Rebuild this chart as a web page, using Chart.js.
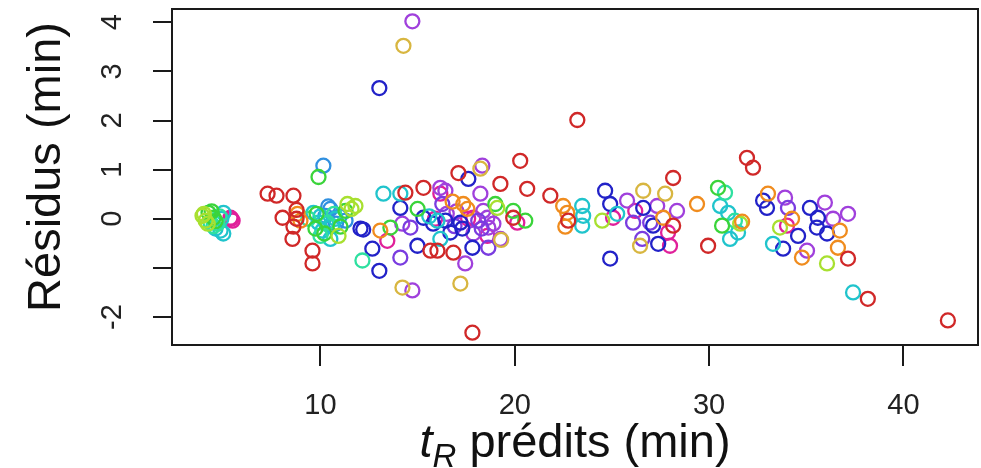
<!DOCTYPE html>
<html>
<head>
<meta charset="utf-8">
<script src="https://cdn.jsdelivr.net/npm/chart.js@4.4.1/dist/chart.umd.min.js"></script>
<style>
html, body { margin: 0; padding: 0; background: #fff; }
#wrap { width: 981px; height: 468px; position: relative; }
</style>
</head>
<body>
<div id="wrap"><canvas id="residus"></canvas></div>
<script>
// Axes
const X_MIN = 2.36, X_MAX = 43.84;
const Y_MIN = -2.57, Y_MAX = 4.27;
const xTicks = [10, 20, 30, 40];
const xTickLabels = ['10', '20', '30', '40'];
const yTicks = [-2, -1, 0, 1, 2, 3, 4];
const yTickLabels = ['-2', '', '0', '1', '2', '3', '4']; // -1 masqué comme dans R

// Résidus par composé : [tR prédit, résidu]
const rouge = [[7.28,0.51],[7.74,0.47],[8.61,0.47],[8.05,0.02],[8.77,0.18],[8.77,0.0],[8.61,-0.16],[8.56,-0.41],[9.59,-0.65],[9.59,-0.91],
  [14.37,0.53],[15.30,0.63],[15.66,-0.65],[16.02,-0.65],[16.84,-0.69],[17.10,0.93],[19.26,0.71],[20.28,1.18],[20.64,0.61],[17.82,-2.32],[19.92,0.02],
  [21.83,0.47],[22.75,-0.04],[23.22,2.01],[28.15,0.83],[28.15,-0.14],[29.95,-0.55],[31.95,1.24],[32.26,1.04],[37.15,-0.81],[38.17,-1.63],[42.29,-2.07]];
const orange = [[8.97,-0.04],[8.82,0.10],[13.08,-0.24],[17.35,0.30],[17.56,0.20],[16.80,0.35],[22.49,0.26],[22.70,0.12],[22.60,-0.16],[27.64,0.02],[29.38,0.30],
  [31.70,-0.06],[33.03,0.51],[34.27,0.0],[34.78,-0.79],[36.73,-0.24],[36.63,-0.59]];
const jaune = [[14.27,3.52],[14.22,-1.40],[17.20,-1.32],[18.23,1.02],[19.30,-0.43],[26.61,0.57],[27.74,0.51],[26.45,-0.55]];
const chartreuse = [[3.93,0.06],[4.09,-0.04],[4.00,0.10],[4.20,-0.10],[10.93,-0.35],[11.39,0.30],[11.80,0.26],[11.60,0.20],[19.10,0.22],[24.50,-0.04],
  [31.60,-0.10],[33.65,-0.18],[36.07,-0.91]];
const vert = [[4.24,0.12],[4.50,0.02],[4.40,0.15],[4.60,-0.05],[9.90,0.85],[9.74,-0.20],[9.80,0.10],[10.20,-0.30],[11.03,-0.16],[11.29,0.16],[13.60,-0.18],
  [15.00,0.20],[19.00,0.30],[19.92,0.16],[20.54,-0.04],[30.46,0.63],[30.67,-0.14]];
const printemps = [[4.34,-0.08],[4.70,-0.10],[4.50,-0.15],[4.80,0.05],[9.38,0.0],[10.36,-0.08],[10.70,0.10],[10.00,-0.35],[12.16,-0.85],[30.82,0.53],[31.33,-0.04]];
const cyan = [[4.86,-0.24],[5.01,0.12],[4.60,-0.20],[5.00,-0.30],[4.90,0.0],[9.64,0.12],[9.90,-0.08],[10.10,-0.24],[10.30,-0.10],[10.60,-0.15],[10.00,0.05],
  [10.77,0.0],[10.51,-0.41],[13.24,0.51],[14.11,0.51],[15.60,0.05],[16.02,-0.04],[16.17,-0.41],[23.47,0.26],[23.52,0.06],[23.47,-0.14],[25.27,0.10],
  [30.57,0.26],[30.98,0.12],[31.08,-0.41],[31.49,-0.28],[33.29,-0.51],[37.41,-1.50]];
const azur = [[10.15,1.08],[10.26,0.06],[10.51,0.20],[11.29,-0.04],[10.80,-0.10],[10.40,0.25],[11.00,0.05]];
const bleu = [[12.06,-0.20],[12.20,-0.22],[12.67,-0.61],[13.03,-1.06],[13.03,2.66],[14.11,0.22],[14.99,-0.55],[15.30,0.02],[15.80,-0.10],[16.43,-0.04],
  [16.68,-0.28],[17.20,-0.08],[17.30,-0.20],[17.61,0.81],[17.82,-0.59],[24.65,0.57],[24.91,0.30],[24.91,-0.81],[26.61,0.22],[27.12,-0.14],[27.38,-0.51],
  [32.78,0.37],[32.98,0.22],[34.58,-0.35],[33.81,-0.61],[35.19,0.22],[35.60,0.02],[35.55,-0.18],[36.07,-0.30]];
const violet = [[14.63,-0.18],[14.11,-0.79],[16.27,0.30],[16.90,-0.15],[18.12,-0.04],[18.30,-0.20],[18.64,-0.59],[26.09,-0.08],[26.97,-0.08],[26.56,-0.41],[34.06,0.22]];
const pourpre = [[14.21,-0.10],[14.73,-1.46],[14.73,4.02],[16.17,0.63],[16.43,0.57],[16.50,0.10],[17.00,0.15],[18.33,1.08],[18.38,0.16],[18.59,0.02],
  [18.90,-0.10],[18.23,0.51],[17.87,-0.30],[18.64,-0.18],[19.26,-0.41],[17.45,-0.91],[25.78,0.37],[27.33,0.26],[28.35,0.16],[33.91,0.43],[35.04,-0.65],
  [35.96,0.33],[36.38,0.0],[37.15,0.10]];
const magenta = [[5.37,0.02],[5.48,-0.04],[5.42,0.0],[13.44,-0.45],[15.90,0.0],[16.17,0.51],[17.60,0.0],[17.87,0.02],[18.59,-0.35],[20.13,-0.08],
  [25.06,0.02],[26.20,0.16],[27.89,-0.28],[27.99,-0.55],[34.01,-0.14]];

const groupes = [
  { pts: rouge, col: '#d02828' },
  { pts: orange, col: '#f08c1e' },
  { pts: jaune, col: '#d8b640' },
  { pts: chartreuse, col: '#a8e030' },
  { pts: vert, col: '#3ad43a' },
  { pts: printemps, col: '#2ee0a0' },
  { pts: cyan, col: '#20c4cc' },
  { pts: azur, col: '#3090e0' },
  { pts: bleu, col: '#2222c8' },
  { pts: violet, col: '#7a3ce0' },
  { pts: pourpre, col: '#a040dc' },
  { pts: magenta, col: '#e0209a' }
];

const FONT = 'Liberation Sans, Arial, sans-serif';
const INK = '#1a1a1a';

// Cadre complet + titres des axes (t_R en italique avec indice)
const cadre = {
  id: 'cadre',
  afterDraw(chart) {
    const { ctx, chartArea: a } = chart;
    ctx.save();
    ctx.strokeStyle = INK;
    ctx.lineWidth = 2;
    ctx.strokeRect(a.left, a.top, a.right - a.left, a.bottom - a.top);

    ctx.fillStyle = '#111';
    // titre y
    ctx.save();
    ctx.translate(60, 167);
    ctx.rotate(-Math.PI / 2);
    ctx.font = '47px ' + FONT;
    ctx.textAlign = 'center';
    ctx.textBaseline = 'alphabetic';
    ctx.fillText('Résidus (min)', 0, 0);
    ctx.restore();

    // titre x
    const big = '47px ' + FONT, itBig = 'italic 47px ' + FONT, itSub = 'italic 33px ' + FONT;
    const rest = ' prédits (min)';
    ctx.textAlign = 'left';
    ctx.textBaseline = 'alphabetic';
    ctx.font = itBig; const wt = ctx.measureText('t').width;
    ctx.font = itSub; const wr = ctx.measureText('R').width;
    ctx.font = big; const wp = ctx.measureText(rest).width;
    let x = (a.left + a.right) / 2 - (wt + wr + wp) / 2;
    const base = 457;
    ctx.font = itBig; ctx.fillText('t', x, base); x += wt;
    ctx.font = itSub; ctx.fillText('R', x, base + 10); x += wr;
    ctx.font = big; ctx.fillText(rest, x, base);
    ctx.restore();
  }
};

new Chart(document.getElementById('residus'), {
  type: 'scatter',
  data: {
    datasets: groupes.map(g => ({
      data: g.pts.map(p => ({ x: p[0], y: p[1] })),
      borderColor: g.col,
      backgroundColor: 'rgba(0,0,0,0)',
      pointRadius: 7,
      pointHoverRadius: 7,
      pointBorderWidth: 2.3
    }))
  },
  options: {
    responsive: true,
    maintainAspectRatio: false,
    animation: false,
    devicePixelRatio: 1,
    layout: { autoPadding: false, padding: { top: 9, right: 3, left: 0, bottom: 0 } },
    plugins: { legend: { display: false }, tooltip: { enabled: false } },
    scales: {
      x: {
        type: 'linear',
        min: X_MIN,
        max: X_MAX,
        afterBuildTicks: s => { s.ticks = xTicks.map(v => ({ value: v })); },
        afterFit: s => { s.height = 123; s.paddingLeft = 0; s.paddingRight = 0; },
        ticks: {
          callback: (v, i) => xTickLabels[i],
          font: { family: FONT, size: 29 },
          color: '#222',
          padding: 23,
          maxRotation: 0,
          autoSkip: false
        },
        grid: { drawOnChartArea: false, drawTicks: true, tickLength: 21, color: INK, lineWidth: 2 },
        border: { display: true, color: INK, width: 2 }
      },
      y: {
        type: 'linear',
        min: Y_MIN,
        max: Y_MAX,
        afterBuildTicks: s => { s.ticks = yTicks.map(v => ({ value: v })); },
        afterFit: s => { s.width = 172; s.paddingTop = 0; s.paddingBottom = 0; },
        ticks: {
          callback: (v, i) => yTickLabels[i],
          font: { family: FONT, size: 29 },
          color: '#222',
          padding: 27,
          minRotation: 90,
          maxRotation: 90,
          crossAlign: 'center',
          autoSkip: false
        },
        grid: { drawOnChartArea: false, drawTicks: true, tickLength: 19, color: INK, lineWidth: 2 },
        border: { display: true, color: INK, width: 2 }
      }
    }
  },
  plugins: [cadre]
});
</script>
</body>
</html>
